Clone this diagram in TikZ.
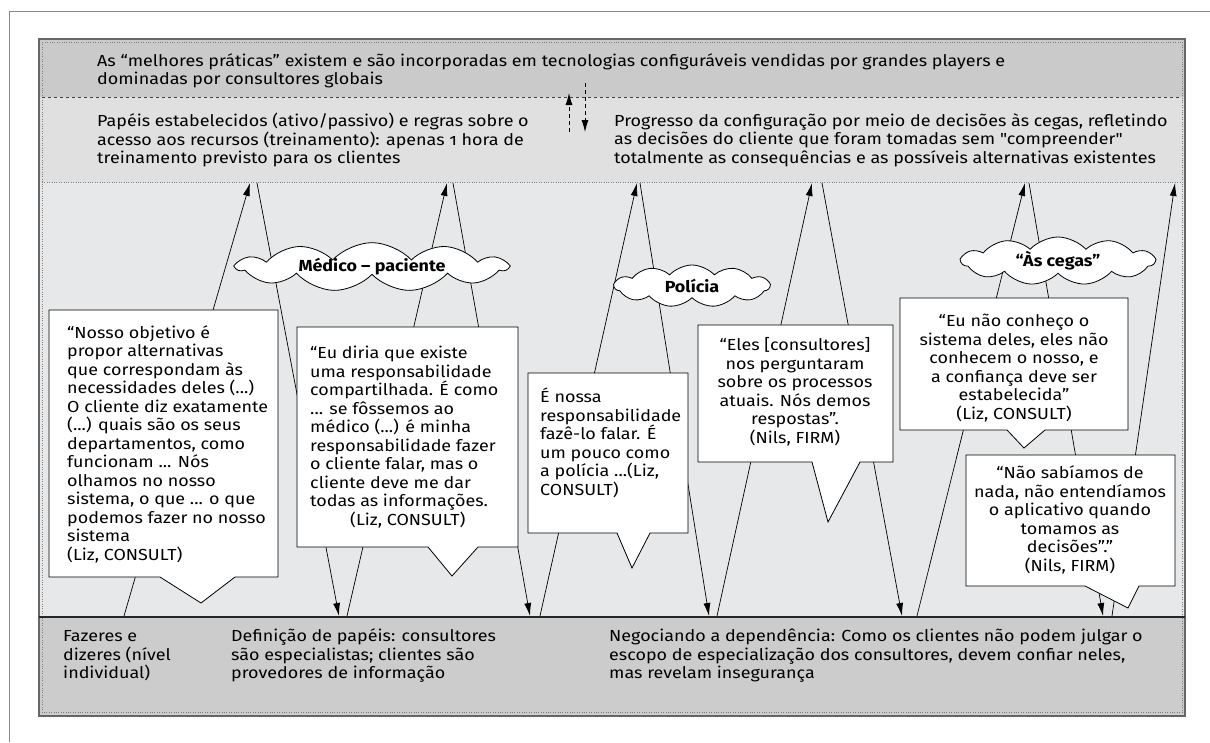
\documentclass[tikz,border=0pt]{standalone}
\usepackage{fontspec}
\setmainfont{Fira Sans}[Numbers=OldStyle, Ligatures=TeXOff, FakeStretch=1.12]
\usepackage{tikz}
\usetikzlibrary{arrows.meta,shapes.symbols}
\definecolor{frameRed}{RGB}{192,118,98}
\definecolor{bandDark}{RGB}{202,202,202}
\definecolor{bandMid}{RGB}{224,224,224}
\definecolor{bandLight}{RGB}{230,232,233}
\definecolor{bandLow}{RGB}{204,204,204}
\tikzset{
    TX/.style ={font=\fontsize{16}{18.5}\selectfont, align=left, anchor=west, inner sep=0pt},
    QB/.style ={draw, fill=white, line width=0.8pt, line join=miter},
    QL/.style ={TX},
    QC/.style ={font=\fontsize{16}{18.5}\selectfont, align=center, inner sep=0pt},
    CL/.style ={cloud, cloud puffs=11, cloud puff arc=95, cloud ignores aspect, draw, fill=white,
                line width=0.8pt, inner sep=0pt, font=\fontsize{16}{18.5}\selectfont\bfseries},
    UP/.style ={-{Latex[length=13pt,width=7pt]}, line width=0.7pt},
    DN/.style ={-{Latex[length=13pt,width=7pt]}, line width=0.7pt},
    DA/.style ={-{Latex[length=12pt,width=7pt]}, line width=0.8pt, dash pattern=on 4pt off 3pt}
}
\begin{document}
\begin{tikzpicture}[x=1pt,y=-1pt]
    \useasboundingbox (0,0) rectangle (1210,742);
    % page frame
    \draw[frameRed, line width=1pt] (9,742) -- (9,11) -- (1210,11);
    % bands
    \fill[bandDark] (39,39) rectangle (1185,97);
    \fill[bandMid] (39,97) rectangle (1185,182);
    \fill[bandLight] (39,182) rectangle (1185,617);
    \fill[bandLow] (39,617) rectangle (1185,716);
    \draw[gray, dotted] (42,42) rectangle (1182,712);
    \draw[black!75, dashed, line width=0.6pt] (42,97) -- (1182,97);
    \draw[gray, dotted] (42,182) -- (1182,182);
    \draw[black!60, line width=1.5pt] (39,39) rectangle (1185,716);
    % level texts
    \node[TX] (lvA) at (97,71) {As “melhores práticas” existem e são incorporadas em tecnologias configuráveis vendidas por grandes players e\\dominadas por consultores globais};
    \node[TX] (lvB) at (97,140) {Papéis estabelecidos (ativo/passivo) e regras sobre o\\acesso aos recursos (treinamento): apenas 1 hora de\\treinamento previsto para os clientes};
    \node[TX] (lvC) at (614,140) {Progresso da configuração por meio de decisões às cegas, refletindo\\as decisões do cliente que foram tomadas sem "compreender"\\totalmente as consequências e as possíveis alternativas existentes};
    \node[TX] (lvD) at (63,656) {Fazeres e\\dizeres (nível\\individual)};
    \node[TX] (lvE) at (231,656) {Definição de papéis: consultores\\são especialistas; clientes são\\provedores de informação};
    \node[TX] (lvF) at (609,656) {Negociando a dependência: Como os clientes não podem julgar o\\escopo de especialização dos consultores, devem confiar neles,\\mas revelam insegurança};
    % dashed double arrow
    \coordinate (uA) at (569,132);
    \coordinate (uB) at (569,93);
    \coordinate (dA) at (585,83);
    \coordinate (dB) at (585,132);
    \draw[DA] (uA) -- (uB);
    \draw[DA] (dA) -- (dB);
    % zigzag
    \foreach \bx/\tx [count=\i] in {124/250,347/447,540/637,717/812,917/1025,1112/1175}{
        \coordinate (ub\i) at (\bx,616);
        \coordinate (ut\i) at (\tx,183);
        \draw[UP] (ub\i) -- (ut\i);
    }
    \foreach \tx/\bx [count=\i] in {257/339,453/530,640/709,822/902,1029/1103}{
        \coordinate (dt\i) at (\tx,183);
        \coordinate (db\i) at (\bx,616);
        \draw[DN] (dt\i) -- (db\i);
    }
    \draw[black!85, line width=2.5pt] (39,617) -- (1185,617);
    % quotes
    \draw[QB] (49,310) -- (278,310) -- (278,577) -- (235,577) -- (201,603) -- (160,577) -- (49,577) -- cycle;
    \node[QL] (q1) at (67,444) {“Nosso objetivo é\\propor alternativas\\que correspondam às\\necessidades deles (...)\\O cliente diz exatamente\\(...) quais são os seus\\departamentos, como\\funcionam ... Nós\\olhamos no nosso\\sistema, o que ... o que\\podemos fazer no nosso\\sistema\\(Liz, CONSULT)};
    \draw[QB] (297,327) -- (518,327) -- (518,547) -- (478,547) -- (452,576) -- (428,547) -- (297,547) -- cycle;
    \node[QL] (q2) at (310,437) {“Eu diria que existe\\uma responsabilidade\\compartilhada. É como\\... se fôssemos ao\\médico (...) é minha\\responsabilidade fazer\\o cliente falar, mas o\\cliente deve me dar\\todas as informações.\\\hspace*{40pt}(Liz, CONSULT)};
    \draw[QB] (528,373) -- (688,373) -- (688,533) -- (650,533) -- (632,568) -- (617,533) -- (528,533) -- cycle;
    \node[QL] (q3) at (540,443) {É nossa\\responsabilidade\\fazê-lo falar. É\\um pouco como\\a polícia ...(Liz,\\CONSULT)};
    \draw[QB] (698,325) -- (893,325) -- (893,462) -- (860,462) -- (828,522) -- (812,462) -- (698,462) -- cycle;
    \node[QC] (q4) at (795,392) {“Eles [consultores]\\nos perguntaram\\sobre os processos\\atuais. Nós demos\\respostas”.\\(Nils, FIRM)};
    \draw[QB] (900,298) -- (1128,298) -- (1128,430) -- (1045,430) -- (1024,448) -- (1007,430) -- (900,430) -- cycle;
    \node[QC] (q5) at (1014,368) {“Eu não conheço o\\sistema deles, eles não\\conhecem o nosso, e\\a confiança deve ser\\estabelecida”\\(Liz, CONSULT)};
    \draw[QB] (966,455) -- (1175,455) -- (1175,586) -- (1139,586) -- (1128,608) -- (1085,586) -- (966,586) -- cycle;
    \node[QC] (q6) at (1070,520) {“Não sabíamos de\\nada, não entendíamos\\o aplicativo quando\\tomamos as\\decisões”.”\\(Nils, FIRM)};
    % clouds
    \node[CL, minimum width=270pt, minimum height=44pt] (c1) at (372,267) {Médico – paciente};
    \node[CL, minimum width=155pt, minimum height=42pt] (c2) at (692,286) {Polícia};
    \node[CL, minimum width=193pt, minimum height=48pt] (c3) at (1058,261) {“Às cegas”};
\end{tikzpicture}
\end{document}
